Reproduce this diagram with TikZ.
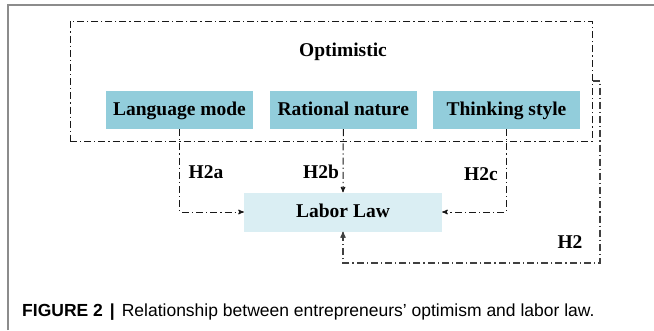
\documentclass[tikz,border=0pt]{standalone}
\usepackage{fontspec}
\setmainfont{Liberation Serif}
\newfontfamily\captionfont{Liberation Sans}
\usepackage{tikz}
\usetikzlibrary{calc}
\usetikzlibrary{arrows}
\usetikzlibrary{positioning}
\definecolor{factor-blue}{HTML}{92CDDB}
\definecolor{law-blue}{HTML}{DAEEF3}
\definecolor{frame-gray}{gray}{0.55}

\begin{document}
\begin{tikzpicture}
  [
    x=1pt, y=-1pt,
    factor/.style = {fill=factor-blue, minimum width=147pt, minimum height=38pt,
                     inner sep=0pt, text height=13pt, text depth=3pt,
                     font=\fontsize{19.5}{21}\selectfont\bfseries},
    outcome/.style = {fill=law-blue, minimum width=198pt, minimum height=39pt,
                      inner sep=0pt, text height=13pt, text depth=3pt,
                      font=\fontsize{19.5}{21}\selectfont\bfseries},
    dashdot/.style = {line width=1pt, dash pattern=on 7pt off 3pt on 1.2pt off 3pt},
    link/.style = {dashdot, -stealth', black!90},
    hyp/.style = {font=\fontsize{19.5}{21}\selectfont\bfseries}
  ]
\useasboundingbox (0, 0) rectangle (654, 330);
% Frame (left and top)
\draw[frame-gray, line width=1.2pt] (8, 330) -- (8, 5) -- (654, 5);

% ---------------------------------------------------
% Optimistic group
\node[dashdot, draw=black!90, minimum width=522pt, minimum height=120pt,
      inner sep=0pt] (optbox) at (331, 81) {};
\node[hyp] (opt) at (343, 52) {Optimistic};
% Factors
\node[factor] (lang)  at (179.5, 110) {Language mode};
\node[factor] (rat)   at (343.3, 110) {Rational nature};
\node[factor] (think) at (506.5, 110) {Thinking style};
% Labor law
\node[outcome] (law) at (343, 212) {Labor Law};

% ---------------------------------------------------
% Hypotheses
\draw[link] (lang.south) |- (law.west);
\node[hyp] (h2a) at (206, 172) {H2a};
\draw[link] (rat.south) -- (law.north);
\node[hyp] (h2b) at (321, 172) {H2b};
\draw[link] (think.south) |- (law.east);
\node[hyp] (h2c) at (481, 174) {H2c};
% Overall effect
\coordinate[] (h2top) at (600, 81);
\coordinate[] (h2bot) at (600, 263);
\draw[link, black!75, line width=1.2pt] (optbox.east) -- (h2top) -- (h2bot) -| (law.south);
\node[hyp] (h2) at (570, 242) {H2};

% ---------------------------------------------------
% Caption
\node[anchor=west, inner sep=0pt, font=\captionfont\fontsize{17.5}{20}\selectfont]
     (cap) at (22, 312) {\textbf{FIGURE 2}\hspace{0.4em}\textbf{|}\hspace{0.4em}Relationship between entrepreneurs’ optimism and labor law.};
\end{tikzpicture}
\end{document}
